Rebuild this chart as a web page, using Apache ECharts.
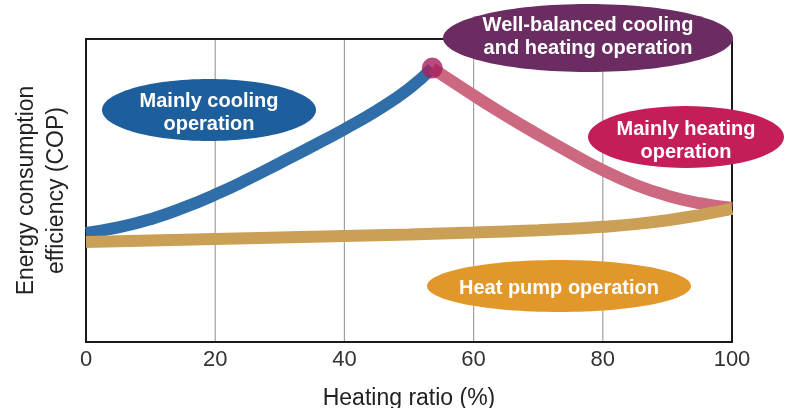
<!DOCTYPE html>
<html>
<head>
<meta charset="utf-8">
<script src="https://cdn.jsdelivr.net/npm/echarts@6/dist/echarts.min.js"></script>
<style>
  html, body { margin: 0; padding: 0; background: #ffffff; }
  #chart { width: 786px; height: 408px; }
</style>
</head>
<body>
<div id="chart"></div>
<script>
// Heating ratio (%) on x, relative COP (0-100 scale) on y
const xTicks = [0, 20, 40, 60, 80, 100];
const yRange = [0, 100];

// Mainly cooling: COP rising toward the balanced point
const coolingX = [0, 5, 10, 15, 20, 25, 30, 35, 40, 45, 50, 53.6];
const coolingY = [36.0, 37.8, 40.55, 44.25, 48.65, 53.65, 59.05, 64.55, 70.25, 76.35, 83.6, 90.4];

// Mainly heating: COP falling from the balanced point
const heatingX = [53.6, 55, 60, 65, 70, 75, 80, 85, 90, 95, 100];
const heatingY = [90.4, 88.4, 81.4, 74.7, 68.4, 62.4, 56.7, 51.9, 48.3, 45.8, 44.2];

// Heat pump only
const heatPumpX = [0, 10, 20, 30, 40, 50, 60, 70, 75, 80, 85, 90, 95, 100];
const heatPumpY = [33.0, 33.5, 34.0, 34.5, 35.0, 35.5, 36.1, 36.9, 37.4, 38.0, 38.9, 40.2, 41.9, 43.9];

// Well-balanced peak
const peakX = [53.6];
const peakY = [90.4];

// Operation-mode captions
const bubbleLabels = [
  'Mainly cooling\noperation',
  'Well-balanced cooling\nand heating operation',
  'Mainly heating\noperation',
  'Heat pump operation'
];

const pairs = (xs, ys) => xs.map((x, i) => [x, ys[i]]);

const FONT = '"Liberation Sans", Arial, sans-serif';

// Bubble placement (px): centre, radii, caption centre y, fill
const bubbleLayout = [
  { cx: 209, cy: 110, rx: 107, ry: 31, ty: 113, fill: '#1d5e9c' },
  { cx: 588, cy: 38,  rx: 145, ry: 34, ty: 37,  fill: '#6b2c62' },
  { cx: 686, cy: 137, rx: 98,  ry: 31, ty: 141, fill: '#c41d5a' },
  { cx: 559, cy: 286, rx: 132, ry: 26, ty: 288, fill: '#e2972b' }
];

function renderBubble(params) {
  const b = bubbleLayout[params.dataIndex];
  return {
    type: 'group',
    children: [
      { type: 'ellipse', shape: { cx: b.cx, cy: b.cy, rx: b.rx, ry: b.ry }, style: { fill: b.fill } },
      {
        type: 'text',
        x: b.cx, y: b.ty,
        style: {
          text: bubbleLabels[params.dataIndex],
          align: 'center',
          verticalAlign: 'middle',
          fill: '#ffffff',
          font: 'bold 20px ' + FONT,
          lineHeight: 23
        }
      }
    ]
  };
}

// Vertical grid line at a tick value, placed through the axis scales
function renderGridLine(params, api) {
  const v = api.value(0);
  const p0 = api.coord([v, yRange[0]]);
  const p1 = api.coord([v, yRange[1]]);
  return {
    type: 'line',
    shape: { x1: p0[0], y1: p0[1], x2: p1[0], y2: p1[1] },
    style: { stroke: '#a0a0a0', lineWidth: 1.2 }
  };
}

// Plot frame
function renderFrame(params, api) {
  const tl = api.coord([xTicks[0], yRange[1]]);
  const br = api.coord([xTicks[xTicks.length - 1], yRange[0]]);
  return {
    type: 'rect',
    shape: { x: tl[0], y: tl[1], width: br[0] - tl[0], height: br[1] - tl[1] },
    style: { fill: null, stroke: '#1a1a1a', lineWidth: 2 }
  };
}

const chart = echarts.init(document.getElementById('chart'), null, { renderer: 'canvas' });

chart.setOption({
  animation: false,
  backgroundColor: '#ffffff',
  grid: {
    left: 86, right: 54, top: 39, bottom: 66,
    outerBoundsMode: 'none',
    containLabel: false,
    show: false
  },
  xAxis: {
    type: 'value',
    min: xTicks[0],
    max: xTicks[xTicks.length - 1],
    interval: 20,
    name: 'Heating ratio (%)',
    nameLocation: 'middle',
    nameGap: 45,
    nameTextStyle: { fontFamily: FONT, fontSize: 23, color: '#222' },
    axisLine: { show: false },
    axisTick: { show: false },
    axisLabel: { fontFamily: FONT, fontSize: 22, color: '#333', margin: 7 },
    splitLine: { show: false }
  },
  yAxis: {
    type: 'value',
    min: yRange[0],
    max: yRange[1],
    name: 'Energy consumption\nefficiency (COP)',
    nameLocation: 'middle',
    nameRotate: 90,
    nameGap: 14,
    nameTextStyle: { fontFamily: FONT, fontSize: 23, color: '#222', lineHeight: 30 },
    axisLine: { show: false },
    axisTick: { show: false },
    axisLabel: { show: false },
    splitLine: { show: false }
  },
  series: [
    {
      name: 'Grid lines', type: 'custom',
      data: xTicks.slice(1, -1).map(v => [v, yRange[0]]),
      renderItem: renderGridLine,
      silent: true,
      z: 1
    },
    {
      name: 'Frame', type: 'custom',
      data: [[xTicks[0], yRange[0]]],
      renderItem: renderFrame,
      silent: true,
      z: 1
    },
    {
      name: 'Mainly cooling', type: 'line', smooth: 0.5, showSymbol: false,
      data: pairs(coolingX, coolingY),
      lineStyle: { color: '#2f6ea8', width: 12, cap: 'butt' },
      z: 2
    },
    {
      name: 'Mainly heating', type: 'line', smooth: 0.5, showSymbol: false,
      data: pairs(heatingX, heatingY),
      lineStyle: { color: '#cc6880', width: 12, cap: 'butt' },
      z: 2
    },
    {
      name: 'Heat pump', type: 'line', smooth: 0.5, showSymbol: false,
      data: pairs(heatPumpX, heatPumpY),
      lineStyle: { color: '#c9a055', width: 12, cap: 'butt' },
      z: 3
    },
    {
      name: 'Well-balanced', type: 'scatter',
      data: pairs(peakX, peakY),
      symbolSize: 21,
      itemStyle: { color: '#a51f5e' },
      z: 4
    },
    {
      name: 'Operation modes', type: 'custom',
      coordinateSystem: 'none',
      data: bubbleLabels.map((_, i) => [i]),
      renderItem: renderBubble,
      silent: true,
      z: 20
    }
  ]
});
</script>
</body>
</html>
